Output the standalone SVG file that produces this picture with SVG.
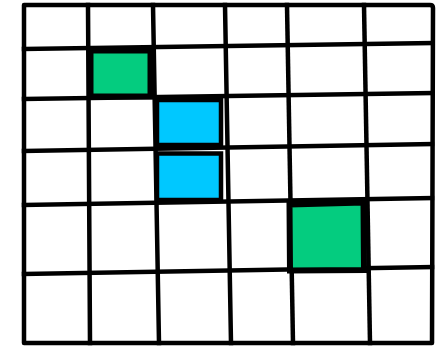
<svg xmlns="http://www.w3.org/2000/svg" width="436" height="346" viewBox="0 0 436 346">
<style>
.grid line{stroke:#000;stroke-width:4.5;stroke-linecap:square}
.frame{fill:none;stroke:#000;stroke-width:4.5;stroke-linejoin:round}
.green{fill:#04cc7f;stroke:#000;stroke-width:6;stroke-linejoin:miter}
.blue{fill:#00c8ff;stroke:#000;stroke-width:4.5;stroke-linejoin:miter}
</style>
<rect width="436" height="346" fill="#fff"/>
<g id="connectors" class="grid">
<line x1="24" y1="49" x2="432" y2="43"/>
<line x1="24" y1="99" x2="432" y2="93"/>
<line x1="24" y1="151" x2="432" y2="144"/>
<line x1="24" y1="205" x2="432" y2="198"/>
<line x1="24" y1="274" x2="432" y2="267"/>
<line x1="88" y1="5" x2="90" y2="343"/>
<line x1="153" y1="5" x2="159" y2="343"/>
<line x1="225" y1="5" x2="231" y2="343"/>
<line x1="287" y1="5" x2="293" y2="343"/>
<line x1="364" y1="5" x2="370" y2="343"/>
</g>
<g id="frame">
<path class="frame" d="M24,5 L430,5 Q433,5 433,8 L432,343 L24,343 Z"/>
</g>
<g id="cell-green-1">
<rect class="green" x="90.5" y="50.5" width="60" height="46"/>
</g>
<g id="cell-blue-1">
<rect class="blue" x="157" y="100" width="64" height="45"/>
</g>
<g id="cell-blue-2">
<rect class="blue" x="157" y="153.5" width="64" height="46.5"/>
</g>
<g id="cell-green-2">
<path class="green" d="M289.5,204.5 L363.5,202.5 L364,270 L290,270.5 Z"/>
</g>
</svg>
